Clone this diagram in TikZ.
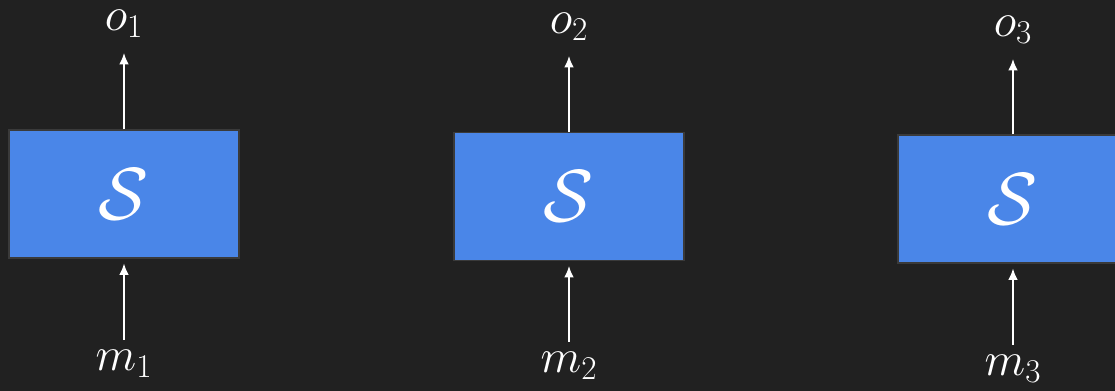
\RequirePackage{fix-cm}
\documentclass[tikz,border=0pt]{standalone}
\usetikzlibrary{arrows.meta}

\definecolor{bgdark}{HTML}{212121}
\definecolor{sblue}{HTML}{4A86E8}
\definecolor{sedge}{HTML}{3A3A3A}

\begin{document}
\begin{tikzpicture}[
    >={Latex[length=6.5pt,width=5.5pt]},
    sbox/.style={
        draw=sedge,
        fill=sblue,
        line width=0.6pt,
        minimum width=4.6cm,
        minimum height=2.56cm,
        inner sep=0pt,
        text=white,
        font=\fontsize{42}{44}\selectfont
    },
    lbl/.style={text=white, inner sep=0pt, font=\fontsize{27}{30}\selectfont},
    arr/.style={->, draw=white, line width=0.9pt},
    up/.style={arr, shorten >=0.3cm},
    inp/.style={arr, shorten <=0.2cm, shorten >=0.1cm}
]
    \fill[bgdark] (0,0) rectangle (22.3,7.82);
    \useasboundingbox (0,0) rectangle (22.3,7.82);

    \node[sbox] (s1) at (2.48,3.94) {$\mathcal{S}$};
    \node[sbox] (s2) at (11.38,3.89) {$\mathcal{S}$};
    \node[sbox] (s3) at (20.26,3.84) {$\mathcal{S}$};

    \node[lbl, anchor=south] (o1) at (2.48,7.06) {$o_1$};
    \node[lbl, anchor=south] (o2) at (11.38,7.00) {$o_2$};
    \node[lbl, anchor=south] (o3) at (20.26,6.94) {$o_3$};

    \node[lbl, anchor=north] (m1) at (2.48,0.82) {$m_1$};
    \node[lbl, anchor=north] (m2) at (11.38,0.78) {$m_2$};
    \node[lbl, anchor=north] (m3) at (20.26,0.72) {$m_3$};

    \draw[up] (s1.north) -- (s1.north |- o1.south);
    \draw[up] (s2.north) -- (s2.north |- o2.south);
    \draw[up] (s3.north) -- (s3.north |- o3.south);

    \draw[inp] (s1.south |- m1.north) -- (s1.south);
    \draw[inp] (s2.south |- m2.north) -- (s2.south);
    \draw[inp] (s3.south |- m3.north) -- (s3.south);
\end{tikzpicture}
\end{document}
